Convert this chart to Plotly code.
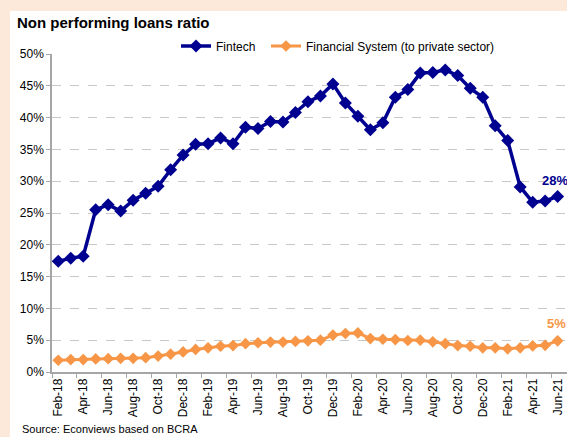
import plotly.graph_objects as go

# Monthly categories, Feb-18 .. Jun-21
months = [
    "Feb-18", "Mar-18", "Apr-18", "May-18", "Jun-18", "Jul-18", "Aug-18", "Sep-18",
    "Oct-18", "Nov-18", "Dec-18", "Jan-19", "Feb-19", "Mar-19", "Apr-19", "May-19",
    "Jun-19", "Jul-19", "Aug-19", "Sep-19", "Oct-19", "Nov-19", "Dec-19", "Jan-20",
    "Feb-20", "Mar-20", "Apr-20", "May-20", "Jun-20", "Jul-20", "Aug-20", "Sep-20",
    "Oct-20", "Nov-20", "Dec-20", "Jan-21", "Feb-21", "Mar-21", "Apr-21", "May-21",
    "Jun-21",
]

# Non performing loans ratio, %
fintech = [
    17.4, 17.9, 18.2, 25.5, 26.3, 25.3, 27.0, 28.1, 29.2, 31.8, 34.1, 35.8, 35.9,
    36.8, 35.9, 38.5, 38.3, 39.4, 39.3, 40.8, 42.5, 43.4, 45.3, 42.3, 40.2, 38.1,
    39.2, 43.2, 44.4, 47.0, 47.1, 47.5, 46.6, 44.6, 43.2, 38.7, 36.4, 29.1, 26.7,
    26.9, 27.6,
]
financial_system = [
    1.85, 1.95, 1.95, 2.05, 2.1, 2.15, 2.15, 2.25, 2.5, 2.8, 3.15, 3.55, 3.8,
    4.05, 4.15, 4.45, 4.6, 4.7, 4.7, 4.8, 4.9, 5.0, 5.8, 6.05, 6.15, 5.25,
    5.15, 5.1, 4.95, 5.0, 4.75, 4.45, 4.15, 4.05, 3.8, 3.8, 3.65, 3.8, 4.1,
    4.2, 4.9,
]

W, H = 567, 437
ML, MR, MT, MB = 52, 0, 54, 65
PW, PH = W - ML - MR, H - MT - MB

NAVY = "#000090"
ORANGE = "#F79646"
PEACH = "#FDE9D9"
FONT = "Liberation Sans, Arial, sans-serif"


def px(x):
    return (x - ML) / PW


def py(y):
    return (H - MB - y) / PH


idx = list(range(len(months)))

fig = go.Figure()
fig.add_trace(go.Scatter(
    x=idx, y=[v / 100 for v in fintech], name="Fintech",
    mode="lines+markers", customdata=months, legend="legend",
    line=dict(color=NAVY, width=3.5),
    marker=dict(symbol="diamond", size=10, color=NAVY),
    hovertemplate="%{customdata}: %{y:.1%}<extra>Fintech</extra>",
))
fig.add_trace(go.Scatter(
    x=idx, y=[v / 100 for v in financial_system],
    name="Financial System (to private sector)",
    mode="lines+markers", customdata=months, legend="legend2",
    line=dict(color=ORANGE, width=3),
    marker=dict(symbol="diamond", size=9, color=ORANGE),
    hovertemplate="%{customdata}: %{y:.1%}<extra>Financial System</extra>",
))

# White chart panel on the peach frame
fig.add_shape(type="rect", xref="paper", yref="paper",
              x0=px(10), x1=px(W + 5), y0=py(H + 5), y1=py(11),
              fillcolor="white", line=dict(width=0), layer="below")

annotations = [
    dict(text="<b>Non performing loans ratio</b>", x=px(15), y=py(22),
         xanchor="left", yanchor="middle", font=dict(size=15, color="black")),
    dict(text=f"<b>{round(fintech[-1])}%</b>", x=px(540), y=py(180),
         xanchor="left", yanchor="middle", font=dict(size=13, color=NAVY)),
    dict(text=f"<b>{round(financial_system[-1])}%</b>", x=px(545), y=py(323),
         xanchor="left", yanchor="middle", font=dict(size=13, color=ORANGE)),
    dict(text="Source: Econviews based on BCRA", x=px(20), y=py(429),
         xanchor="left", yanchor="middle", font=dict(size=11, color="black")),
]
for a in annotations:
    a.update(xref="paper", yref="paper", showarrow=False)

legend_style = dict(orientation="h", yanchor="middle", xanchor="left",
                    bgcolor="rgba(0,0,0,0)", font=dict(size=12), itemwidth=30)

fig.update_layout(
    width=W, height=H,
    margin=dict(l=ML, r=MR, t=MT, b=MB, pad=0),
    paper_bgcolor=PEACH, plot_bgcolor="white",
    font=dict(family=FONT, size=12, color="black"),
    showlegend=True,
    legend=dict(x=px(176), y=py(46), **legend_style),
    legend2=dict(x=px(266), y=py(46), **legend_style),
    annotations=annotations,
    hovermode="closest",
)
fig.update_xaxes(
    range=[-0.5, 40.75], showgrid=False, zeroline=False,
    tickmode="array", tickvals=idx[::2], ticktext=months[::2],
    tickangle=-90, ticks="", tickfont=dict(size=12),
    showline=True, linecolor="#a6a6a6", linewidth=1.5,
    minor=dict(tickmode="array", tickvals=[-0.5] + [i + 1.5 for i in idx[::2]][:-1],
               ticks="outside", ticklen=4, tickcolor="#a6a6a6", showgrid=False),
)
fig.update_yaxes(
    range=[0, 0.5], tickmode="array",
    tickvals=[i / 20 for i in range(11)], tickformat=".0%",
    showgrid=True, gridcolor="#c8c8c8", griddash="dash", gridwidth=1,
    zeroline=False, showline=True, linecolor="#a6a6a6", linewidth=1.5,
    ticks="outside", ticklen=4, tickcolor="#a6a6a6", tickfont=dict(size=12),
)

fig.write_html("out.html")
